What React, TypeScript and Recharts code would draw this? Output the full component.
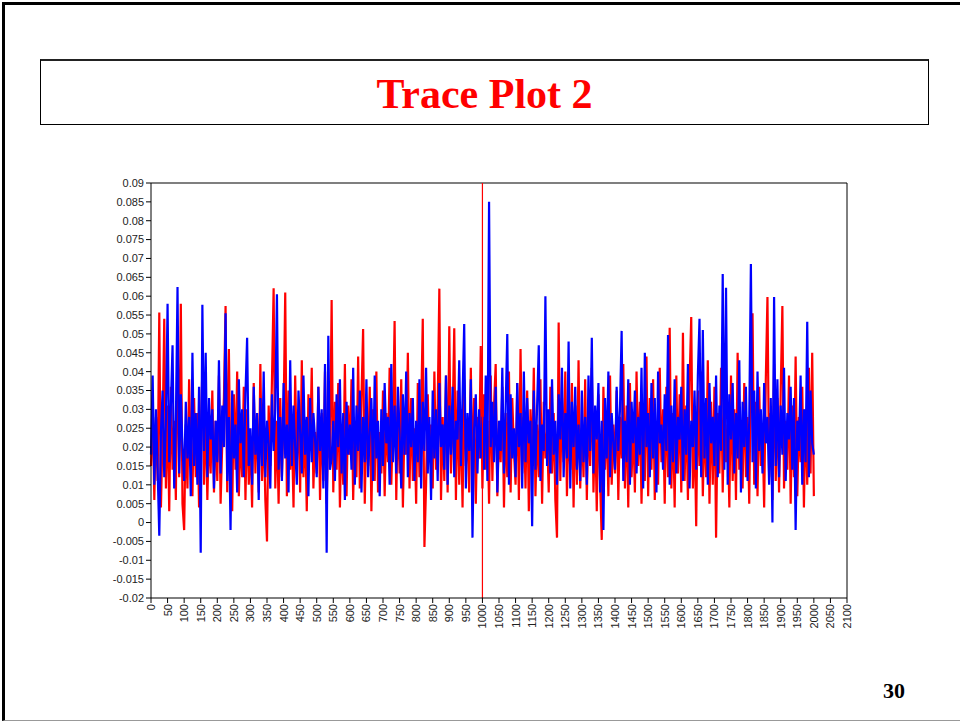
import React from 'react';
import { LineChart, Line, XAxis, YAxis, ReferenceLine } from 'recharts';

// sampled every 5 iterations, 0 .. 2000
const step = 5;

// chain 1 (red)
const redChain: number[] = [
  0.015, 0.032, 0.006, 0.028, 0.011, 0.0557, 0.004, 0.024, 0.054, 0.009, 0.031, 0.003, 0.036, 0.014, 0.027, 0.006, 0.052, 0.012, 0.058, 0.005,
  -0.002, 0.026, 0.009, 0.038, 0.017, 0.007, 0.033, 0.012, 0.029, 0.004, 0.022, 0.041, 0.010, 0.030, 0.006, 0.025, 0.013, 0.035, 0.008, 0.027,
  0.011, 0.039, 0.005, 0.021, 0.033, 0.0574, 0.008, 0.046, 0.010, 0.003, 0.034, 0.014, 0.040, 0.007, 0.024, 0.012, 0.036, 0.006, 0.030, 0.010,
  0.023, 0.004, 0.037, 0.013, 0.029, 0.008, 0.042, 0.011, 0.026, 0.006, -0.005, 0.031, 0.015, 0.038, 0.0621, 0.009, 0.027, 0.005, 0.033, 0.012,
  0.028, 0.061, 0.007, 0.035, 0.014, 0.025, 0.004, 0.039, 0.016, 0.030, 0.008, 0.043, 0.012, 0.027, 0.003, 0.034, 0.019, 0.041, 0.009, 0.024,
  0.013, 0.036, 0.006, 0.029, 0.011, 0.040, 0.005, 0.025, 0.017, 0.059, 0.008, 0.032, 0.014, 0.037, 0.004, 0.026, 0.010, 0.042, 0.007, 0.031,
  0.018, 0.038, 0.006, 0.027, 0.012, 0.044, 0.009, 0.033, 0.0513, 0.005, 0.028, 0.015, 0.036, 0.003, 0.030, 0.011, 0.040, 0.008, 0.024, 0.013,
  0.035, 0.007, 0.029, 0.016, 0.041, 0.010, 0.026, 0.0534, 0.006, 0.031, 0.013, 0.038, 0.004, 0.027, 0.018, 0.045, 0.009, 0.033, 0.011, 0.025,
  0.005, 0.037, 0.012, 0.029, 0.054, -0.0065, 0.010, 0.034, 0.016, 0.026, 0.009, 0.040, 0.014, 0.031, 0.062, 0.006, 0.028, 0.011, 0.039, 0.008,
  0.052, 0.013, 0.027, 0.0515, 0.006, 0.035, 0.010, 0.030, 0.004, 0.038, 0.015, 0.025, 0.008, 0.041, 0.012, 0.033, 0.005, 0.028, 0.017, 0.0468,
  0.009, 0.034, 0.014, 0.027, 0.005, 0.039, 0.011, 0.031, 0.042, 0.007, 0.025, 0.016, 0.036, 0.004, 0.029, 0.012, 0.040, 0.008, 0.033, 0.019,
  0.010, 0.037, 0.006, 0.046, 0.013, 0.028, 0.009, 0.035, 0.003, 0.030, 0.015, 0.041, 0.007, 0.026, 0.012, 0.038, 0.005, 0.032, 0.017, 0.024,
  0.008, 0.036, 0.013, 0.029, 0.006, -0.004, 0.053, 0.011, 0.033, 0.016, 0.040, 0.007, 0.027, 0.014, 0.037, 0.004, 0.031, 0.010, 0.043, 0.009,
  0.025, 0.012, 0.038, 0.006, 0.030, 0.015, 0.041, 0.008, 0.027, 0.003, 0.034, 0.011, -0.0046, 0.036, 0.014, 0.029, 0.007, 0.039, 0.010, 0.026,
  0.013, 0.035, 0.006, 0.028, 0.017, 0.042, 0.009, 0.031, 0.004, 0.037, 0.012, 0.026, 0.008, 0.040, 0.015, 0.032, 0.005, 0.029, 0.011, 0.044,
  0.007, 0.033, 0.014, 0.038, 0.006, 0.027, 0.010, 0.041, 0.016, 0.030, 0.005, 0.036, 0.012, 0.0516, 0.009, 0.029, 0.004, 0.039, 0.013, 0.034,
  0.008, 0.0503, 0.011, 0.031, 0.006, 0.037, 0.0545, 0.009, 0.026, -0.001, 0.035, 0.015, 0.040, 0.007, 0.028, 0.012, 0.043, 0.005, 0.032, 0.010,
  0.036, -0.004, 0.029, 0.013, 0.041, 0.008, 0.033, 0.016, 0.026, 0.004, 0.039, 0.011, 0.030, 0.006, 0.045, 0.014, 0.027, 0.009, 0.037, 0.012,
  0.028, 0.005, 0.040, 0.0555, 0.010, 0.032, 0.007, 0.036, 0.015, 0.026, 0.004, 0.038, 0.0598, 0.012, 0.029, 0.006, 0.042, 0.011, 0.033, 0.008,
  0.035, 0.0574, 0.009, 0.027, 0.014, 0.039, 0.005, 0.031, 0.012, 0.044, 0.007, 0.028, 0.016, 0.036, 0.004, 0.030, 0.010, 0.041, 0.013, 0.045,
  0.007,
];

// chain 2 (blue)
const blueChain: number[] = [
  0.018, 0.039, 0.010, 0.030, 0.014, -0.0035, 0.024, 0.035, 0.012, 0.027, 0.058, 0.016, 0.031, 0.047, 0.009, 0.026, 0.0624, 0.013, 0.034, 0.020,
  0.011, 0.032, 0.017, 0.028, 0.007, 0.045, 0.015, 0.029, 0.010, 0.036, -0.008, 0.0577, 0.019, 0.045, 0.012, 0.033, 0.022, 0.030, 0.009, 0.027,
  0.016, 0.043, 0.013, 0.031, 0.020, 0.0555, 0.011, 0.028, -0.002, 0.035, 0.017, 0.026, 0.008, 0.038, 0.021, 0.030, 0.012, 0.034, 0.049, 0.015,
  0.025, 0.010, 0.036, 0.018, 0.029, 0.006, 0.033, 0.015, 0.040, 0.012, 0.027, 0.021, 0.009, 0.034, 0.019, 0.030, 0.0605, 0.014, 0.028, 0.011,
  0.037, 0.017, 0.026, 0.008, 0.043, 0.015, 0.031, 0.020, 0.010, 0.035, 0.024, 0.013, 0.039, 0.018, 0.028, 0.007, 0.033, 0.016, 0.029, 0.022,
  0.012, 0.036, 0.019, 0.030, 0.009, 0.042, -0.008, 0.0495, 0.014, 0.017, 0.027, 0.011, 0.034, 0.020, 0.038, 0.013, 0.029, 0.006, 0.032, 0.018,
  0.026, 0.014, 0.041, 0.010, 0.031, 0.019, 0.035, 0.008, 0.028, 0.016, 0.038, 0.012, 0.024, 0.033, 0.011, 0.039, 0.017, 0.027, 0.007, 0.030,
  0.015, 0.037, 0.021, 0.028, 0.010, 0.042, 0.016, 0.031, 0.013, 0.036, 0.024, 0.009, 0.034, 0.018, 0.040, 0.012, 0.029, 0.020, 0.033, 0.011,
  0.027, 0.016, 0.038, 0.009, 0.032, 0.019, 0.041, 0.013, 0.028, 0.006, 0.035, 0.017, 0.030, 0.011, 0.037, 0.020, 0.026, 0.014, 0.039, 0.010,
  0.031, 0.018, 0.036, 0.012, 0.027, 0.022, 0.043, 0.015, 0.033, 0.0526, 0.009, 0.029, 0.019, 0.038, -0.004, 0.025, 0.034, 0.013, 0.030, 0.017,
  0.028, 0.014, 0.039, 0.011, 0.085, 0.020, 0.032, 0.016, 0.036, 0.008, 0.027, 0.019, 0.041, 0.013, 0.030, 0.050, 0.010, 0.034, 0.017, 0.025,
  0.012, 0.037, 0.020, 0.029, 0.009, 0.040, 0.016, 0.033, 0.021, 0.027, -0.001, 0.035, 0.014, 0.031, 0.047, 0.011, 0.026, 0.019, 0.060, 0.015,
  0.030, 0.013, 0.038, 0.018, 0.027, 0.010, 0.034, 0.022, 0.041, 0.012, 0.029, 0.017, 0.048, 0.009, 0.032, 0.020, 0.036, 0.014, 0.026, 0.011,
  0.035, 0.016, 0.028, 0.010, 0.039, 0.019, 0.049, 0.013, 0.031, 0.022, 0.037, 0.008, 0.027, -0.002, 0.033, 0.017, 0.040, 0.012, 0.029, 0.021,
  0.014, 0.036, 0.019, 0.030, 0.0508, 0.011, 0.027, 0.016, 0.038, 0.010, 0.032, 0.021, 0.035, 0.013, 0.028, 0.018, 0.041, 0.009, 0.045, 0.020,
  0.029, 0.012, 0.037, 0.017, 0.033, 0.008, 0.040, 0.021, 0.026, 0.014, 0.034, 0.019, 0.0497, 0.010, 0.031, 0.016, 0.038, 0.013, 0.028, 0.022,
  0.036, 0.011, 0.030, 0.018, 0.042, 0.009, 0.027, 0.020, 0.035, 0.014, 0.039, 0.054, 0.012, 0.051, 0.017, 0.033, 0.010, 0.037, 0.021, 0.028,
  0.015, 0.039, 0.012, 0.031, 0.019, 0.0659, 0.014, 0.0622, 0.010, 0.034, 0.022, 0.037, 0.013, 0.029, 0.017, 0.043, 0.008, 0.032, 0.020, 0.036,
  0.011, 0.027, 0.0685, 0.016, 0.035, 0.009, 0.040, 0.019, 0.030, 0.013, 0.037, 0.021, 0.028, 0.010, 0.033, 0.000, 0.0598, 0.015, 0.038, 0.012,
  0.031, 0.018, 0.041, 0.011, 0.029, 0.022, 0.036, 0.014, 0.033, -0.002, 0.027, 0.019, 0.039, 0.010, 0.030, 0.016, 0.0532, 0.012, 0.035, 0.021,
  0.018,
];

const xTicks = [
  0, 50, 100, 150, 200, 250, 300, 350, 400, 450, 500, 550, 600, 650, 700, 750, 800, 850, 900, 950, 1000,
  1050, 1100, 1150, 1200, 1250, 1300, 1350, 1400, 1450, 1500, 1550, 1600, 1650, 1700, 1750, 1800, 1850,
  1900, 1950, 2000, 2050, 2100,
];

const yTicks = [
  -0.02, -0.015, -0.01, -0.005, 0, 0.005, 0.01, 0.015, 0.02, 0.025, 0.03, 0.035, 0.04, 0.045, 0.05,
  0.055, 0.06, 0.065, 0.07, 0.075, 0.08, 0.085, 0.09,
];

const burnIn = 1000;

const data = redChain.map((v, i) => ({ iter: i * step, red: v, blue: blueChain[i] }));

const axisFont = '"Liberation Sans", Arial, sans-serif';
const serif = '"Liberation Serif", "Times New Roman", serif';

const XTick = (props: any) => {
  const { x, y, payload } = props;
  return (
    <text
      x={x}
      y={y}
      transform={`rotate(-90 ${x} ${y})`}
      textAnchor="end"
      dominantBaseline="central"
      fontSize={11}
      fontFamily={axisFont}
      fill="#222"
    >
      {payload.value}
    </text>
  );
};

export default function App() {
  return (
    <div style={{ position: 'absolute', left: 0, top: 0, width: 960, height: 721, overflow: 'hidden', background: '#fff' }}>
      {/* slide frame */}
      <div
        style={{
          position: 'absolute',
          left: 2,
          top: 2,
          width: 1000,
          height: 715,
          borderLeft: '3px solid #000',
          borderTop: '3px solid #000',
          borderBottom: '1px solid #999',
        }}
      />
      {/* title box */}
      <div
        style={{
          position: 'absolute',
          left: 40,
          top: 59,
          width: 889,
          height: 66,
          boxSizing: 'border-box',
          border: '1px solid #000',
          borderTop: '2px solid #222',
        }}
      />
      <div
        style={{
          position: 'absolute',
          left: 40,
          top: 73,
          width: 889,
          height: 42,
          lineHeight: '42px',
          textAlign: 'center',
          fontFamily: serif,
          fontWeight: 'bold',
          fontSize: 42,
          color: '#ff0000',
        }}
      >
        Trace Plot 2
      </div>
      <div style={{ position: 'absolute', left: 0, top: 0 }}>
        <LineChart width={960} height={721} data={data} margin={{ top: 183, right: 113, bottom: 83, left: 101 }}>
          <XAxis
            dataKey="iter"
            type="number"
            domain={[0, 2100]}
            ticks={xTicks}
            interval={0}
            height={40}
            tickSize={5}
            tickMargin={1}
            axisLine={{ stroke: '#000' }}
            tickLine={{ stroke: '#000' }}
            tick={<XTick />}
          />
          <YAxis
            type="number"
            domain={[-0.02, 0.09]}
            ticks={yTicks}
            interval={0}
            width={50}
            tickSize={5}
            tickMargin={2}
            axisLine={{ stroke: '#000' }}
            tickLine={{ stroke: '#000' }}
            tick={{ fontSize: 11, fontFamily: axisFont, fill: '#222' }}
          />
          <Line type="linear" dataKey="red" stroke="#ff0000" strokeWidth={2.2} dot={false} isAnimationActive={false} />
          <Line type="linear" dataKey="blue" stroke="#0000ff" strokeWidth={2.2} dot={false} isAnimationActive={false} />
          <ReferenceLine y={0.09} stroke="#555" strokeWidth={1.5} />
          <ReferenceLine x={2100} stroke="#000" />
          <ReferenceLine x={burnIn} stroke="#ff0000" strokeWidth={1.2} />
        </LineChart>
      </div>
      <div
        style={{
          position: 'absolute',
          left: 870,
          top: 680,
          width: 48,
          height: 22,
          lineHeight: '22px',
          textAlign: 'center',
          fontFamily: serif,
          fontWeight: 'bold',
          fontSize: 22,
          color: '#000',
        }}
      >
        30
      </div>
    </div>
  );
}
